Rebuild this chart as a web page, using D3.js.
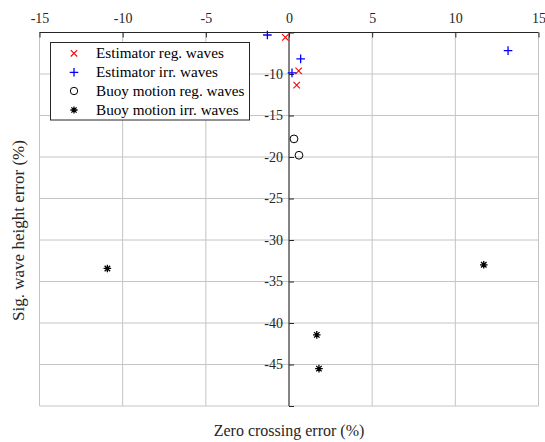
<!DOCTYPE html>
<html>
<head>
<meta charset="utf-8">
<script src="https://cdn.jsdelivr.net/npm/d3@7"></script>
<style>
  html, body { margin: 0; padding: 0; background: #fff; }
  svg { display: block; }
  svg text { font-family: "Liberation Serif", "Times New Roman", serif; }
</style>
</head>
<body>
<svg id="chart" width="545" height="442"></svg>
<script>
// Estimator, regular waves
const estRegX = [-0.22, 0.58, 0.46];
const estRegY = [-5.58, -9.62, -11.34];
// Estimator, irregular waves
const estIrrX = [-1.30, 0.70, 0.18, 13.17];
const estIrrY = [-5.30, -8.18, -9.86, -7.18];
// Buoy motion, regular waves
const buoyRegX = [0.30, 0.60];
const buoyRegY = [-17.82, -19.79];
// Buoy motion, irregular waves
const buoyIrrX = [-10.92, 11.71, 1.67, 1.80];
const buoyIrrY = [-33.43, -32.99, -41.43, -45.50];

const xTicks = [-15, -10, -5, 0, 5, 10, 15];
const yTicks = [-10, -15, -20, -25, -30, -35, -40, -45];
const yGrid = [-5, -10, -15, -20, -25, -30, -35, -40, -45, -50];

const seriesNames = [
  "Estimator reg. waves",
  "Estimator irr. waves",
  "Buoy motion reg. waves",
  "Buoy motion irr. waves"
];
const xLabel = "Zero crossing error (%)";
const yLabel = "Sig. wave height error (%)";

const svg = d3.select("#chart");
const plotL = 39.5, plotR = 538.5, plotT = 32.5, plotB = 406;
const serif = "'Liberation Serif', 'Times New Roman', serif";

const x = d3.scaleLinear().domain([-15, 15]).range([plotL, plotR]);
const y = d3.scaleLinear().domain([-50, -5]).range([plotB, plotT]);

const gridColor = "#c4c4c4";
const axisColor = "#262626";

// grid
const grid = svg.append("g");
grid.selectAll("line.vx").data(xTicks).join("line")
  .attr("x1", d => x(d)).attr("x2", d => x(d))
  .attr("y1", plotT).attr("y2", plotB)
  .attr("stroke", gridColor).attr("stroke-width", 1);
grid.selectAll("line.hy").data(yGrid).join("line")
  .attr("x1", plotL).attr("x2", plotR)
  .attr("y1", d => y(d)).attr("y2", d => y(d))
  .attr("stroke", gridColor).attr("stroke-width", 1);

// hyphen-minus labels
const fmt = d => String(d);

function styleAxis(g) {
  g.attr("font-family", null).attr("font-size", null);
  g.select(".domain").attr("stroke", axisColor);
  g.selectAll(".tick line").attr("stroke", axisColor);
  g.selectAll(".tick text").attr("fill", axisColor)
    .attr("font-family", serif).attr("font-size", 14)
    .style("font-family", serif).style("font-size", "14px");
}

// top x axis
const xAxis = d3.axisTop(x).tickValues(xTicks).tickSize(-5).tickPadding(10).tickFormat(fmt);
const gx = svg.append("g").attr("transform", `translate(0,${plotT})`).call(xAxis);
styleAxis(gx);
gx.select(".domain").attr("d", `M${plotL},0H${plotR}`);

// y axis through x = 0
const yAxis = d3.axisLeft(y).tickValues(yTicks.concat([-50, -5])).tickSize(-5).tickPadding(6)
  .tickFormat(d => yTicks.includes(d) ? fmt(d) : "");
const gy = svg.append("g").attr("transform", `translate(${x(0)},0)`).call(yAxis);
styleAxis(gy);
gy.select(".domain").attr("d", `M0,${plotT}V${plotB}`);

// axis titles
svg.append("text").attr("x", 289).attr("y", 436).attr("text-anchor", "middle")
  .attr("font-size", 16).attr("fill", axisColor).text(xLabel);
svg.append("text").attr("transform", "translate(24,230.5) rotate(-90)")
  .attr("text-anchor", "middle").attr("font-size", 17).attr("fill", axisColor).text(yLabel);

// marker drawers
function cross(g, cx, cy, s, color) {
  g.append("path").attr("d", `M${cx - s},${cy - s}L${cx + s},${cy + s}M${cx - s},${cy + s}L${cx + s},${cy - s}`)
    .attr("stroke", color).attr("stroke-width", 1.1).attr("fill", "none");
}
function plus(g, cx, cy, s, color) {
  g.append("path").attr("d", `M${cx - s},${cy}H${cx + s}M${cx},${cy - s}V${cy + s}`)
    .attr("stroke", color).attr("stroke-width", 1.3).attr("fill", "none");
}
function circle(g, cx, cy, r, color) {
  g.append("circle").attr("cx", cx).attr("cy", cy).attr("r", r)
    .attr("stroke", color).attr("stroke-width", 1).attr("fill", "none");
}
function star(g, cx, cy, s, color) {
  const d = s * 0.72;
  g.append("path").attr("d",
    `M${cx - s},${cy}H${cx + s}M${cx},${cy - s}V${cy + s}` +
    `M${cx - d},${cy - d}L${cx + d},${cy + d}M${cx - d},${cy + d}L${cx + d},${cy - d}`)
    .attr("stroke", color).attr("stroke-width", 1.3).attr("fill", "none");
}

const marks = svg.append("g");
estRegX.forEach((v, i) => cross(marks, x(v), y(estRegY[i]), 3.2, "#ff0000"));
estIrrX.forEach((v, i) => plus(marks, x(v), y(estIrrY[i]), 4.3, "#0000ff"));
buoyRegX.forEach((v, i) => circle(marks, x(v), y(buoyRegY[i]), 3.9, "#000"));
buoyIrrX.forEach((v, i) => star(marks, x(v), y(buoyIrrY[i]), 3.8, "#000"));

// legend
const lg = svg.append("g");
lg.append("rect").attr("x", 50.5).attr("y", 42.5).attr("width", 199).attr("height", 77.5)
  .attr("fill", "#fff").attr("stroke", axisColor).attr("stroke-width", 1);
const rowY = [53.3, 72.3, 91, 110];
const mx = 74;
cross(lg, mx, rowY[0], 3.2, "#ff0000");
plus(lg, mx, rowY[1], 4.3, "#0000ff");
circle(lg, mx, rowY[2], 3.7, "#000");
star(lg, mx, rowY[3], 3.6, "#000");
lg.selectAll("text.leg").data(seriesNames).join("text")
  .attr("x", 96).attr("y", (d, i) => rowY[i] + 5)
  .attr("font-size", 15.2).attr("fill", "#000").text(d => d);
</script>
</body>
</html>
